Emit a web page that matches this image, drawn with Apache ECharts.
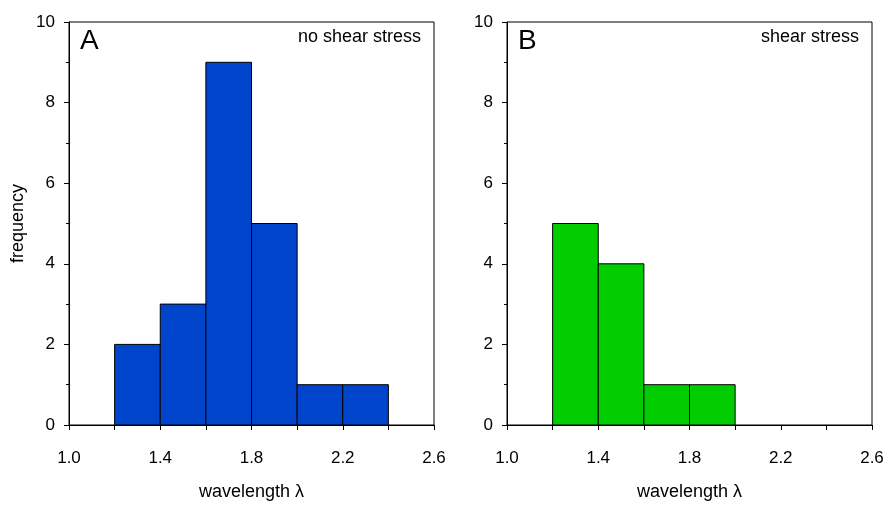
<!DOCTYPE html>
<html>
<head>
<meta charset="utf-8">
<script src="https://cdn.jsdelivr.net/npm/echarts@6/dist/echarts.min.js"></script>
<style>html,body{margin:0;padding:0;background:#fff;}#c{width:887px;height:506px;}</style>
</head>
<body>
<div id="c"></div>
<script>
const binStart = [1.2, 1.4, 1.6, 1.8, 2.0, 2.2];
const binEnd   = [1.4, 1.6, 1.8, 2.0, 2.2, 2.4];
const countsA  = [2, 3, 9, 5, 1, 1];
const countsB  = [5, 4, 1, 1];
const xMin = 1.0, xMax = 2.6, yMin = 0, yMax = 10;
const panelLetters = ['A', 'B'];
const panelTitles = ['no shear stress', 'shear stress'];
const colors = ['#0044CC', '#00CC00'];

const FONT = 'Liberation Sans, Arial, sans-serif';
const chart = echarts.init(document.getElementById('c'), null, {renderer: 'canvas'});

function makeData(counts) {
  return counts.map((c, i) => [binStart[i], binEnd[i], c]);
}
function renderer(color) {
  return function (params, api) {
    const p0 = api.coord([api.value(0), 0]);
    const p1 = api.coord([api.value(1), api.value(2)]);
    return {
      type: 'rect',
      shape: {x: p0[0], y: p1[1], width: p1[0] - p0[0], height: p0[1] - p1[1]},
      style: {fill: color, stroke: '#000', lineWidth: 1}
    };
  };
}
const grids = [
  {left: 69, top: 22, width: 365, height: 408},
  {left: 507, top: 22, width: 365, height: 408}
];
function xAxis(idx) {
  return {
    type: 'value', gridIndex: idx, min: xMin, max: xMax, interval: 0.2,
    name: 'wavelength λ', nameLocation: 'middle', nameGap: 58,
    nameTextStyle: {fontFamily: FONT, fontSize: 18, color: '#000'},
    axisLine: {show: true, lineStyle: {color: '#000', width: 1}},
    axisTick: {show: true, length: 5, lineStyle: {color: '#000'}},
    splitLine: {show: false},
    axisLabel: {
      margin: 25, fontFamily: FONT, fontSize: 17, color: '#000',
      showMinLabel: true, showMaxLabel: true,
      formatter: function (v) {
        const k = Math.round(v * 10);
        return ((k - 10) % 4 === 0) ? (k / 10).toFixed(1) : '';
      }
    }
  };
}
function yAxis(idx) {
  const a = {
    type: 'value', gridIndex: idx, min: yMin, max: yMax, interval: 2,
    axisLine: {show: true, lineStyle: {color: '#000', width: 1}},
    axisTick: {show: true, length: 5, lineStyle: {color: '#000'}},
    minorTick: {show: true, splitNumber: 2, length: 3, lineStyle: {color: '#000'}},
    splitLine: {show: false}, minorSplitLine: {show: false},
    axisLabel: {margin: 14, fontFamily: FONT, fontSize: 17, color: '#000'}
  };
  if (idx === 0) {
    a.name = 'frequency';
    a.nameLocation = 'middle';
    a.nameGap = 42;
    a.nameTextStyle = {fontFamily: FONT, fontSize: 18, color: '#000'};
  }
  return a;
}
const graphics = [];
grids.forEach((g, i) => {
  graphics.push({
    type: 'text', left: g.left + 11, top: 27,
    style: {text: panelLetters[i], font: '28px ' + FONT, fill: '#000'}
  });
  graphics.push({
    type: 'text', right: 887 - (g.left + g.width) + 13, top: 28,
    style: {text: panelTitles[i], font: '18px ' + FONT, fill: '#000'}
  });
});

chart.setOption({
  animation: false,
  backgroundColor: '#fff',
  grid: grids.map(g => Object.assign({show: true, borderColor: '#000', borderWidth: 1, backgroundColor: 'transparent'}, g)),
  xAxis: [xAxis(0), xAxis(1)],
  yAxis: [yAxis(0), yAxis(1)],
  series: [
    {type: 'custom', xAxisIndex: 0, yAxisIndex: 0, renderItem: renderer(colors[0]), data: makeData(countsA), encode: {x: [0, 1], y: 2}},
    {type: 'custom', xAxisIndex: 1, yAxisIndex: 1, renderItem: renderer(colors[1]), data: makeData(countsB), encode: {x: [0, 1], y: 2}}
  ],
  graphic: graphics
});
</script>
</body>
</html>
